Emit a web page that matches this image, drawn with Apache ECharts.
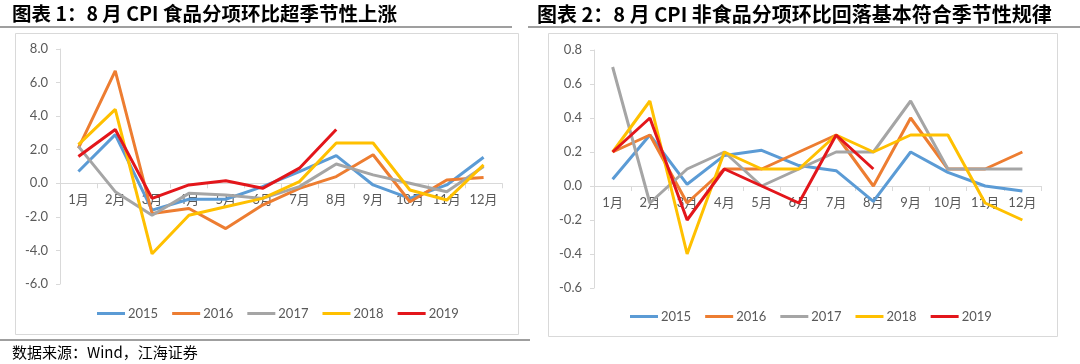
<!DOCTYPE html>
<html>
<head>
<meta charset="utf-8">
<script src="https://cdn.jsdelivr.net/npm/echarts@6/dist/echarts.min.js"></script>
<style>
html,body{margin:0;padding:0;background:#fff;}
#c{width:1080px;height:364px;}
</style>
</head>
<body>
<div id="c"></div>
<script>
const categories = ['1月','2月','3月','4月','5月','6月','7月','8月','9月','10月','11月','12月'];
const years = ['2015','2016','2017','2018','2019'];
const colors = ['#5B9BD5','#ED7D31','#A5A5A5','#FFC000','#E3161B'];

// 图表1：食品分项环比
const food2015 = [0.7, 2.9, -1.6, -0.95, -0.95, -0.2, 0.7, 1.65, -0.1, -0.9, -0.1, 1.55];
const food2016 = [2.1, 6.7, -1.8, -1.5, -2.7, -1.3, -0.3, 0.4, 1.7, -1.1, 0.2, 0.35];
const food2017 = [2.2, -0.5, -1.9, -0.6, -0.7, -0.9, -0.2, 1.15, 0.5, 0.0, -0.5, 1.0];
const food2018 = [2.3, 4.4, -4.2, -1.9, -1.4, -0.9, 0.1, 2.4, 2.4, -0.4, -1.0, 1.1];
const food2019 = [1.6, 3.2, -0.9, -0.1, 0.15, -0.3, 0.9, 3.2];

// 图表2：非食品分项环比
const nonfood2015 = [0.04, 0.3, 0.01, 0.18, 0.21, 0.12, 0.09, -0.09, 0.2, 0.08, 0.0, -0.03];
const nonfood2016 = [0.2, 0.3, -0.1, 0.1, 0.1, 0.2, 0.3, 0.0, 0.4, 0.1, 0.1, 0.2];
const nonfood2017 = [0.7, -0.1, 0.1, 0.2, 0.0, 0.1, 0.2, 0.2, 0.5, 0.1, 0.1, 0.1];
const nonfood2018 = [0.2, 0.5, -0.4, 0.2, 0.1, 0.1, 0.3, 0.2, 0.3, 0.3, -0.1, -0.2];
const nonfood2019 = [0.2, 0.4, -0.2, 0.1, 0.0, -0.1, 0.3, 0.1];

const title1 = '图表 1：8 月 CPI 食品分项环比超季节性上涨';
const title2 = '图表 2：8 月 CPI 非食品分项环比回落基本符合季节性规律';
const sourceText = '数据来源：Wind，江海证券';

const foodData = [food2015, food2016, food2017, food2018, food2019];
const nonfoodData = [nonfood2015, nonfood2016, nonfood2017, nonfood2018, nonfood2019];

const FONT = 'Lato, "Noto Sans CJK SC", sans-serif';
const LABEL_COLOR = '#595959';
const AXIS_COLOR = '#D9D9D9';

// grid geometry
const G1 = {left: 60, right: 502, top: 49, bottom: 284, min: -6, max: 8, interval: 2};
const G2 = {left: 594, right: 1041, top: 50, bottom: 288, min: -0.6, max: 0.8, interval: 0.2};
function zeroOffset(g){
  const zeroY = g.top + (g.max - 0) / (g.max - g.min) * (g.bottom - g.top);
  return -(g.bottom - zeroY);
}

function xAxisCfg(gridIndex, g){
  return {
    type: 'category', gridIndex, data: categories, position: 'bottom',
    offset: zeroOffset(g),
    axisLine: {onZero: false, lineStyle: {color: AXIS_COLOR, width: 1}},
    axisTick: {show: true, length: 5, lineStyle: {color: AXIS_COLOR}},
    axisLabel: {color: LABEL_COLOR, fontSize: 13, fontFamily: FONT, margin: 10, interval: 0},
    splitLine: {show: false}
  };
}
function yAxisCfg(gridIndex, g){
  return {
    type: 'value', gridIndex, min: g.min, max: g.max, interval: g.interval,
    axisLine: {show: true, lineStyle: {color: AXIS_COLOR, width: 1}},
    axisTick: {show: true, length: 4, lineStyle: {color: AXIS_COLOR}},
    axisLabel: {color: LABEL_COLOR, fontSize: 13, fontFamily: FONT, margin: 12,
      formatter: v => (Math.round(v*10)/10).toFixed(1)},
    splitLine: {show: false}
  };
}

const series = [];
years.forEach((y, i) => {
  series.push({
    name: y, type: 'line', xAxisIndex: 0, yAxisIndex: 0, data: foodData[i],
    symbol: 'none', lineStyle: {width: 3, color: colors[i]}, itemStyle: {color: colors[i]},
    z: 2 + i
  });
});
years.forEach((y, i) => {
  series.push({
    name: y, type: 'line', xAxisIndex: 1, yAxisIndex: 1, data: nonfoodData[i],
    symbol: 'none', lineStyle: {width: 3, color: colors[i]}, itemStyle: {color: colors[i]},
    z: 2 + i
  });
});

const legendCommon = {
  data: years, icon: 'rect', itemWidth: 28, itemHeight: 3, itemGap: 14,
  textStyle: {color: LABEL_COLOR, fontSize: 13, fontFamily: FONT, padding: [0, 0, 0, -2]}, selectedMode: false
};

const option = {
  animation: false,
  backgroundColor: '#fff',
  grid: [
    {left: G1.left, right: 1080 - G1.right, top: G1.top, bottom: 364 - G1.bottom, containLabel: false},
    {left: G2.left, right: 1080 - G2.right, top: G2.top, bottom: 364 - G2.bottom, containLabel: false}
  ],
  xAxis: [xAxisCfg(0, G1), xAxisCfg(1, G2)],
  yAxis: [yAxisCfg(0, G1), yAxisCfg(1, G2)],
  legend: [
    Object.assign({left: 92, top: 302}, legendCommon),
    Object.assign({left: 625, top: 305}, legendCommon)
  ],
  graphic: [
    {type: 'rect', z: -1, shape: {x: 15.5, y: 33.5, width: 503, height: 301}, style: {fill: '#fff', stroke: '#D9D9D9', lineWidth: 1}},
    {type: 'rect', z: -1, shape: {x: 548.5, y: 33.5, width: 509, height: 303}, style: {fill: '#fff', stroke: '#D9D9D9', lineWidth: 1}},
    {type: 'line', shape: {x1: 0, y1: 27, x2: 512, y2: 27}, style: {stroke: '#7F7F7F', lineWidth: 1.5}},
    {type: 'line', shape: {x1: 528, y1: 27, x2: 1080, y2: 27}, style: {stroke: '#7F7F7F', lineWidth: 1.5}},
    {type: 'line', shape: {x1: 0, y1: 340, x2: 530, y2: 340}, style: {stroke: '#7F7F7F', lineWidth: 1.5}},
    {type: 'text', x: 12, y: 14, style: {text: title1, fill: '#000', font: 'bold 19.5px "Noto Sans CJK SC", sans-serif', verticalAlign: 'middle'}},
    {type: 'text', x: 537, y: 14, style: {text: title2, fill: '#000', font: 'bold 20px "Noto Sans CJK SC", sans-serif', verticalAlign: 'middle'}},
    {type: 'text', x: 12, y: 352, style: {text: sourceText, fill: '#000', font: '15px "Noto Sans CJK SC", sans-serif', verticalAlign: 'middle'}}
  ],
  series
};

const chart = echarts.init(document.getElementById('c'), null, {renderer: 'canvas'});
chart.setOption(option);
</script>
</body>
</html>
